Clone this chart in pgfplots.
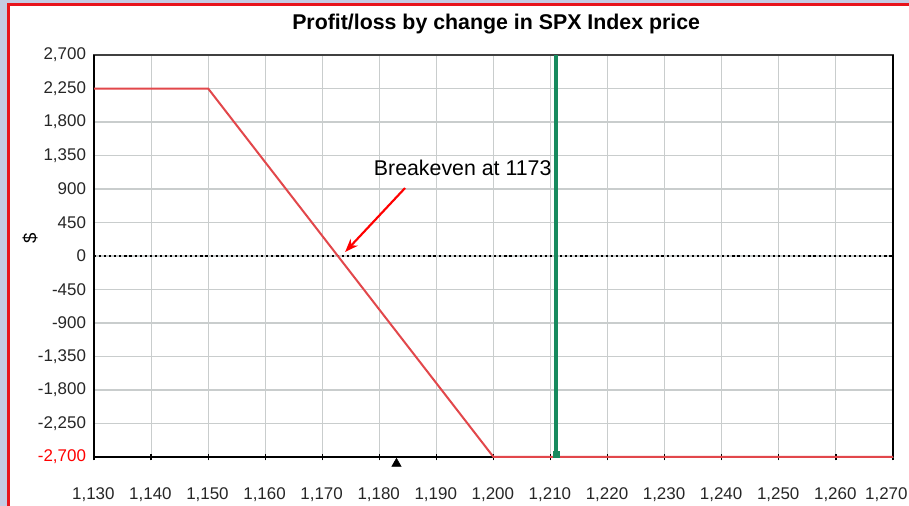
\documentclass[border=0pt]{standalone}
\usepackage{fontspec}
\setmainfont{Liberation Sans}
\usepackage{pgfplots}
\pgfplotsset{compat=1.18}
\usetikzlibrary{arrows.meta}
\definecolor{margin}{HTML}{C5CBE3}
\definecolor{frame}{HTML}{E8141C}
\definecolor{pl}{HTML}{E2474B}
\definecolor{spot}{HTML}{178A5E}
\definecolor{gridc}{HTML}{C9CDCD}

\begin{document}
\begin{tikzpicture}
% page: 909 x 506 px, 1px = 0.75pt
\useasboundingbox (0,0) rectangle (681.75pt,379.5pt);
\fill[margin] (0,0) rectangle (681.75pt,379.5pt);
\fill[white] (6.4pt,0) rectangle (681.75pt,376.1pt);
\draw[frame, line width=2.2pt] (6.4pt,0) -- (6.4pt,376.1pt) -- (681.75pt,376.1pt);

\begin{axis}[
  at={(70.5pt,36.75pt)}, anchor=south west,
  scale only axis,
  width=599.25pt, height=301.5pt,
  xmin=1130, xmax=1270,
  ymin=-2700, ymax=2700,
  clip=false,
  xtick={1130,1140,...,1270},
  xticklabels={{1,130},{1,140},{1,150},{1,160},{1,170},{1,180},{1,190},{1,200},{1,210},{1,220},{1,230},{1,240},{1,250},{1,260},{\makebox[0pt]{1,270\kern 9pt}}},
  ytick={-2700,-2250,-1800,-1350,-900,-450,0,450,900,1350,1800,2250,2700},
  yticklabels={\textcolor{red}{-2,700},{-2,250},{-1,800},{-1,350},{-900},{-450},0,450,900,{1,350},{1,800},{2,250},{2,700}},
  xtick pos=bottom, ytick pos=left,
  tick align=center,
  x tick style={black, line width=0.9pt},
  major tick length=5pt,
  y tick style={draw=none},
  tick label style={font=\fontsize{12.7}{14}\selectfont, text=black!85},
  xticklabel style={yshift=-17pt, xshift=-0.5pt},
  grid=major,
  grid style={gridc, line width=0.8pt},
  axis line style={black!75, line width=0.8pt},
  title={Profit/loss by change in SPX Index price},
  title style={font=\bfseries\fontsize{16}{18}\selectfont, at={(0.5,1)}, anchor=base, yshift=13.5pt, xshift=2pt},
  ylabel={\$},
  ylabel style={font=\fontsize{14}{16}\selectfont, at={(axis description cs:-0.08,0.545)}, anchor=center},
]
\draw[black, line width=1.5pt] (rel axis cs:0,1) -- (rel axis cs:0,0) -- (rel axis cs:1,0);
\draw[black, line width=1.2pt] (rel axis cs:1,0) -- (rel axis cs:1,1);
% zero line
\addplot[black, line width=1.4pt, dash pattern=on 1.6pt off 2.2pt] coordinates {(1130,0) (1270,0)};
% profit/loss
\addplot[pl, line width=1.5pt] coordinates {(1130,2250) (1150,2250) (1200,-2700) (1270,-2700)};
% current index level
\addplot[spot, line width=2.7pt] coordinates {(1211,-2700) (1211,2700)};
\addplot[spot, only marks, mark=square*, mark size=2.3pt] coordinates {(1211,-2665)};
% marker below axis
\addplot[black, only marks, mark=triangle*, mark size=4pt, mark options={yshift=-5pt}] coordinates {(1183,-2700)};
% annotation
\node[font=\fontsize{16}{18}\selectfont] at (axis cs:1194.6,1182) {Breakeven at 1173};
\draw[red, line width=1.6pt, -{Stealth[length=10pt,width=7.5pt]}] (axis cs:1184.5,913) -- (axis cs:1174,54);
\end{axis}
\end{tikzpicture}
\end{document}
